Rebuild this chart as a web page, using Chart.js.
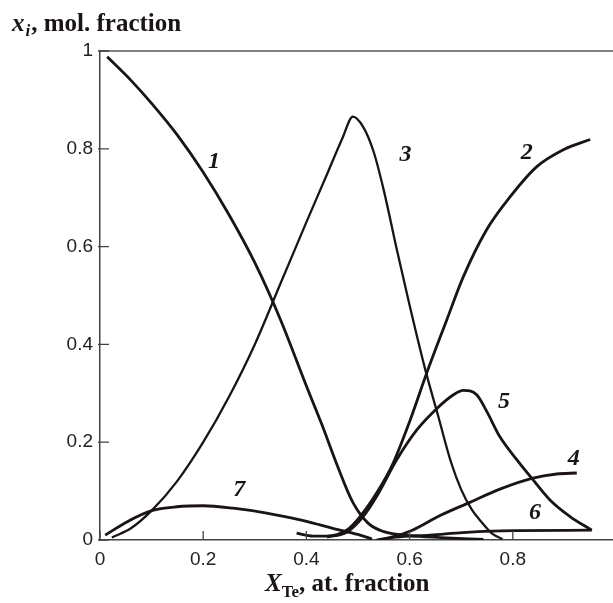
<!DOCTYPE html>
<html>
<head>
<meta charset="utf-8">
<style>
html,body{margin:0;padding:0;background:#fff;overflow:hidden;width:613px;height:603px}
#wrap{position:relative;width:624px;height:603px}
canvas{display:block}
</style>
<script src="https://cdn.jsdelivr.net/npm/chart.js@4/dist/chart.umd.min.js"></script>
</head>
<body>
<div id="wrap"><canvas id="c" width="624" height="603" style="width:624px;height:603px"></canvas></div>
<script>
// ---- data ----
const xTickValues = [0, 0.2, 0.4, 0.6, 0.8, 1];
const yTickValues = [0, 0.2, 0.4, 0.6, 0.8, 1];
const curveNames = ['1', '2', '3', '4', '5', '6', '7'];

const c1x = [0.014, 0.060, 0.100, 0.150, 0.200, 0.250, 0.300, 0.350, 0.400, 0.430, 0.460, 0.490, 0.520, 0.550, 0.600, 0.660, 0.743];
const c1y = [0.988, 0.940, 0.893, 0.828, 0.752, 0.665, 0.567, 0.450, 0.315, 0.236, 0.152, 0.077, 0.034, 0.017, 0.009, 0.005, 0.001];

const c2x = [0.381, 0.413, 0.439, 0.478, 0.504, 0.536, 0.568, 0.601, 0.633, 0.672, 0.704, 0.749, 0.795, 0.846, 0.898, 0.950];
const c2y = [0.014, 0.008, 0.008, 0.020, 0.048, 0.096, 0.157, 0.245, 0.341, 0.450, 0.538, 0.634, 0.702, 0.763, 0.798, 0.819];

const c3x = [0.023, 0.060, 0.100, 0.150, 0.200, 0.250, 0.300, 0.350, 0.400, 0.440, 0.470, 0.490, 0.510, 0.530, 0.550, 0.575, 0.600, 0.630, 0.655, 0.680, 0.700, 0.720, 0.740, 0.760, 0.780];
const c3y = [0.005, 0.024, 0.060, 0.121, 0.200, 0.293, 0.400, 0.525, 0.650, 0.748, 0.822, 0.866, 0.845, 0.795, 0.715, 0.595, 0.480, 0.350, 0.255, 0.160, 0.103, 0.063, 0.036, 0.013, 0.002];

const c4x = [0.536, 0.565, 0.603, 0.659, 0.717, 0.775, 0.837, 0.885, 0.924];
const c4y = [0.000, 0.006, 0.019, 0.050, 0.077, 0.104, 0.126, 0.135, 0.137];

const c5x = [0.440, 0.478, 0.510, 0.536, 0.575, 0.614, 0.653, 0.685, 0.704, 0.730, 0.750, 0.775, 0.808, 0.837, 0.872, 0.911, 0.953];
const c5y = [0.006, 0.016, 0.048, 0.089, 0.164, 0.225, 0.269, 0.297, 0.306, 0.297, 0.262, 0.211, 0.164, 0.126, 0.082, 0.048, 0.020];

const c6x = [0.555, 0.573, 0.640, 0.703, 0.760, 0.807, 0.953];
const c6y = [0.003, 0.006, 0.010, 0.015, 0.018, 0.019, 0.020];

const c7x = [0.010, 0.052, 0.100, 0.149, 0.200, 0.258, 0.323, 0.388, 0.426, 0.465, 0.504, 0.527];
const c7y = [0.010, 0.037, 0.060, 0.068, 0.070, 0.065, 0.055, 0.041, 0.031, 0.020, 0.010, 0.002];

// curve-number annotation anchors (data units)
const labelAtX = [0.221, 0.827, 0.592, 0.918, 0.783, 0.843, 0.270];
const labelAtY = [0.773, 0.791, 0.787, 0.167, 0.283, 0.055, 0.102];

// ---- build datasets ----
const seriesX = [c1x, c2x, c3x, c4x, c5x, c6x, c7x];
const seriesY = [c1y, c2y, c3y, c4y, c5y, c6y, c7y];
const widths = [2.8, 2.8, 2.3, 2.8, 2.8, 2.8, 2.8];

const datasets = seriesX.map((xs, i) => ({
  label: curveNames[i],
  data: xs.map((x, k) => ({x: x, y: seriesY[i][k]})),
  borderColor: '#1a1414',
  borderWidth: widths[i],
  pointRadius: 0,
  fill: false,
  cubicInterpolationMode: 'monotone',
  borderCapStyle: 'butt',
  borderJoinStyle: 'round'
}));

const fmt = v => (Math.round(v * 10) / 10).toString();

const decor = {
  id: 'decor',
  afterDraw(chart) {
    const ctx = chart.ctx;
    const xs = chart.scales.x, ys = chart.scales.y;
    const a = chart.chartArea;
    ctx.save();
    // top and right frame lines
    ctx.strokeStyle = '#5a5a5a';
    ctx.lineWidth = 1.5;
    ctx.beginPath();
    ctx.moveTo(a.left, a.top); ctx.lineTo(a.right, a.top);
    ctx.moveTo(a.right, a.top); ctx.lineTo(a.right, a.bottom);
    ctx.stroke();
    // inward tick marks
    ctx.strokeStyle = '#444';
    ctx.lineWidth = 1.3;
    ctx.beginPath();
    xTickValues.forEach(v => {
      const px = xs.getPixelForValue(v);
      ctx.moveTo(px, a.bottom); ctx.lineTo(px, a.bottom - 9);
    });
    yTickValues.forEach(v => {
      const py = ys.getPixelForValue(v);
      ctx.moveTo(a.left - 2, py); ctx.lineTo(a.left + 9, py);
    });
    ctx.stroke();

    // curve number labels
    ctx.fillStyle = '#1a1414';
    ctx.font = 'italic bold 24px "Liberation Serif"';
    ctx.textAlign = 'center';
    ctx.textBaseline = 'middle';
    curveNames.forEach((n, i) => {
      ctx.fillText(n, xs.getPixelForValue(labelAtX[i]), ys.getPixelForValue(labelAtY[i]));
    });

    // axis titles
    ctx.textAlign = 'left';
    ctx.textBaseline = 'alphabetic';
    // y title: x_i, mol. fraction
    let x0 = 12, base = 31;
    ctx.font = 'italic bold 25px "Liberation Serif"';
    ctx.fillText('x', x0, base);
    x0 += ctx.measureText('x').width + 1;
    ctx.font = 'italic bold 17px "Liberation Serif"';
    ctx.fillText('i', x0, base + 5);
    x0 += ctx.measureText('i').width + 1;
    ctx.font = 'bold 25px "Liberation Serif"';
    ctx.fillText(', mol. fraction', x0, base);

    // x title: X_Te, at. fraction
    x0 = 265; base = 591;
    ctx.font = 'italic bold 25px "Liberation Serif"';
    ctx.fillText('X', x0, base);
    x0 += ctx.measureText('X').width;
    ctx.font = 'bold 17px "Liberation Serif"';
    ctx.fillText('Te', x0, base + 6);
    x0 += ctx.measureText('Te').width;
    ctx.font = 'bold 25px "Liberation Serif"';
    ctx.fillText(', at. fraction', x0, base);
    ctx.restore();
  }
};

new Chart(document.getElementById('c'), {
  type: 'line',
  data: { datasets: datasets },
  options: {
    responsive: false,
    animation: false,
    layout: { padding: { top: 51, right: 0, bottom: 0, left: 0 } },
    plugins: { legend: { display: false }, tooltip: { enabled: false } },
    scales: {
      x: {
        type: 'linear', min: 0, max: 1,
        afterFit: s => { s.height = 63; },
        afterBuildTicks: s => { s.ticks = xTickValues.map(v => ({value: v})); },
        grid: { display: false, drawTicks: false },
        border: { display: true, color: '#444', width: 1.5 },
        ticks: {
          padding: 8, color: '#222', maxRotation: 0, autoSkip: false,
          font: { family: '"Liberation Sans"', size: 19 },
          callback: v => v >= 1 ? '' : fmt(v)
        }
      },
      y: {
        type: 'linear', min: 0, max: 1,
        afterFit: s => { s.width = 100; },
        afterBuildTicks: s => { s.ticks = yTickValues.map(v => ({value: v})); },
        grid: { display: false, drawTicks: false },
        border: { display: true, color: '#444', width: 1.5 },
        ticks: {
          padding: 7, color: '#222', autoSkip: false,
          font: { family: '"Liberation Sans"', size: 19 },
          callback: v => fmt(v)
        }
      }
    }
  },
  plugins: [decor]
});
</script>
</body>
</html>
